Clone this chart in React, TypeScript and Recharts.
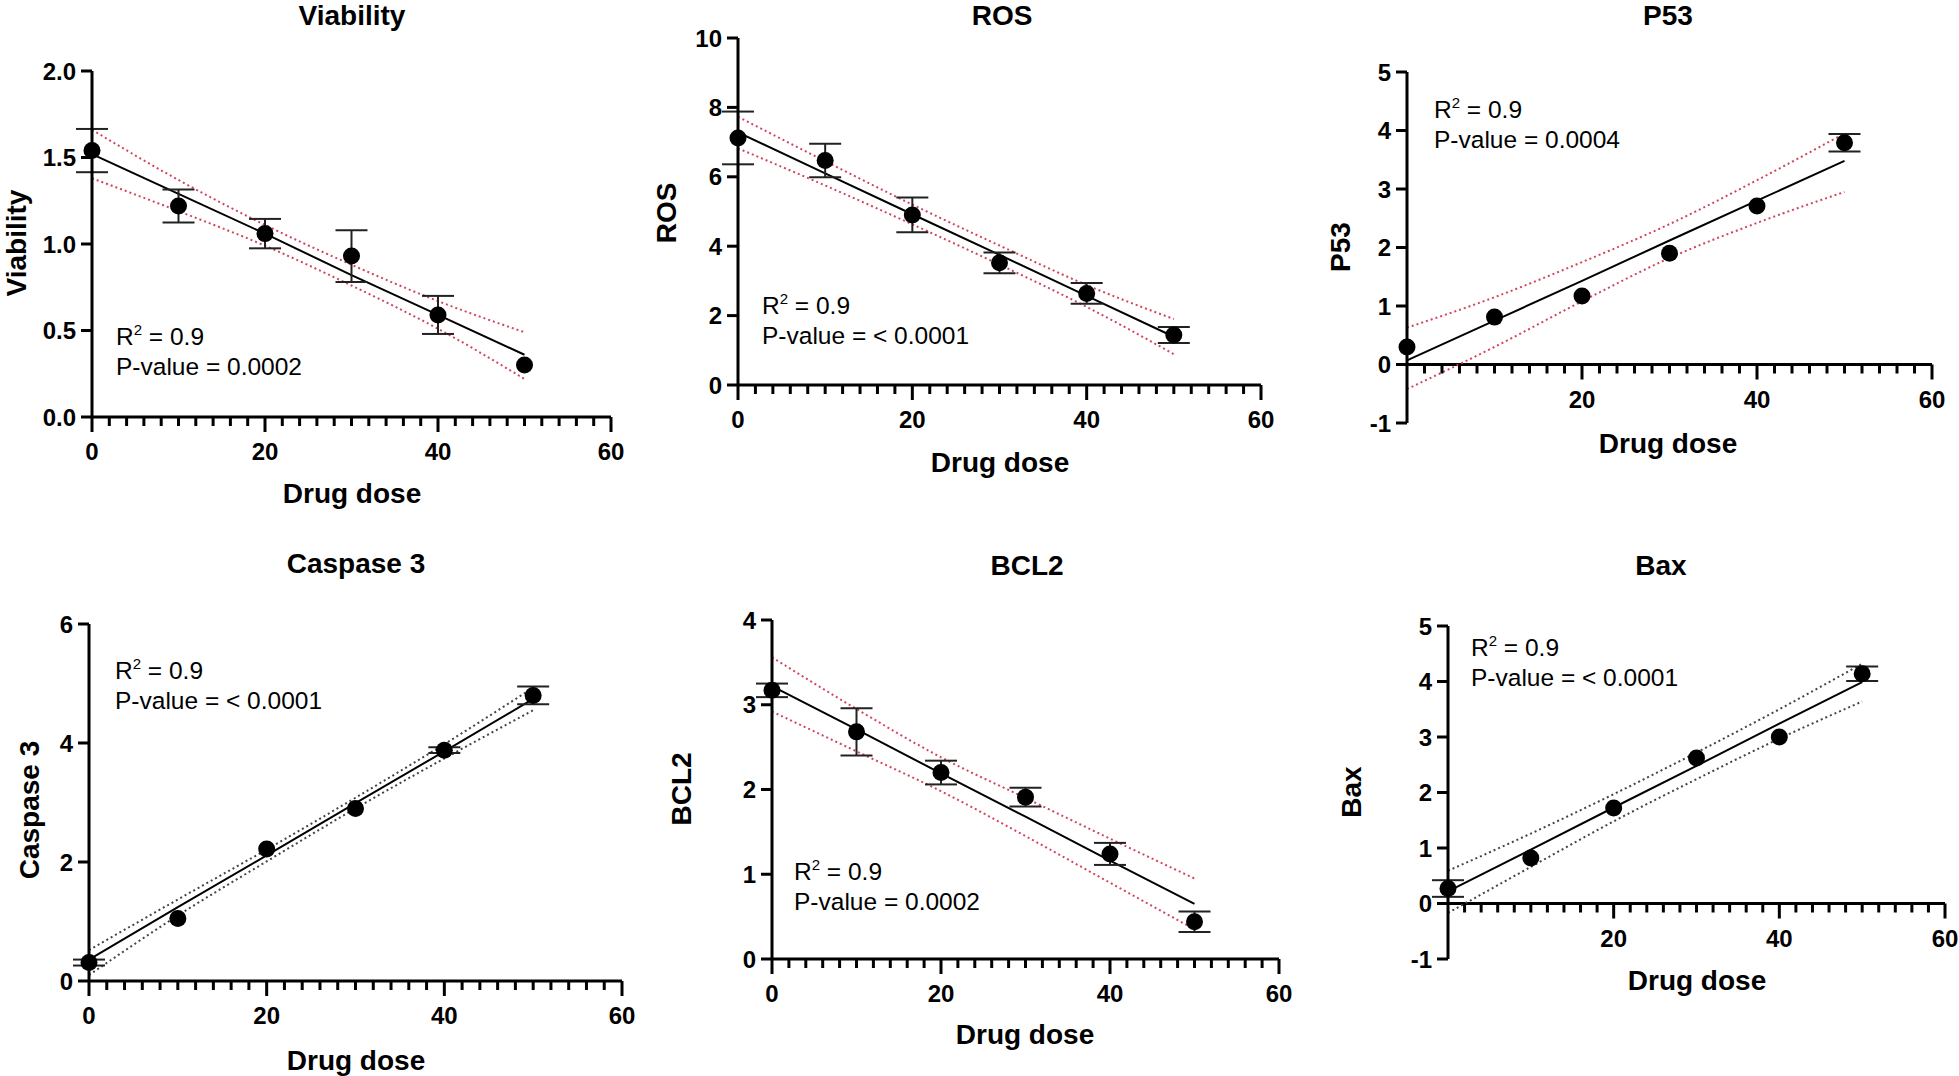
import React from 'react';
import { ComposedChart, Scatter, Line, XAxis, YAxis, ErrorBar, ReferenceLine, ReferenceDot } from 'recharts';

const FONT = "'Liberation Sans', Arial, Helvetica, sans-serif";

const doses = [0, 10, 20, 30, 40, 50];
const xMajorTicks = [0, 20, 40, 60];
const xMinorTicks = [2, 4, 6, 8, 10, 12, 14, 16, 18, 22, 24, 26, 28, 30, 32, 34, 36, 38, 42, 44, 46, 48, 50, 52, 54, 56, 58];

// Viability
const viabilityMean = [1.54, 1.22, 1.06, 0.93, 0.59, 0.3];
const viabilityErr = [0.125, 0.095, 0.085, 0.15, 0.11, 0];
const viabilityFit = [1.52, 1.29, 1.06, 0.82, 0.59, 0.36];
const viabilityUpper = [1.66, 1.37, 1.11, 0.88, 0.67, 0.49];
const viabilityLower = [1.38, 1.19, 0.99, 0.76, 0.51, 0.22];

// ROS
const rosMean = [7.12, 6.47, 4.9, 3.52, 2.64, 1.44];
const rosErr = [0.76, 0.48, 0.5, 0.3, 0.3, 0.23];
const rosFit = [7.28, 6.1, 4.92, 3.75, 2.57, 1.39];
const rosUpper = [7.73, 6.45, 5.2, 4.02, 2.88, 1.9];
const rosLower = [6.82, 5.75, 4.63, 3.47, 2.25, 0.89];

// P53
const p53Mean = [0.3, 0.81, 1.17, 1.9, 2.71, 3.79];
const p53Err = [0, 0, 0, 0, 0, 0.15];
const p53Fit = [0.07, 0.75, 1.43, 2.12, 2.8, 3.48];
const p53Upper = [0.63, 1.15, 1.75, 2.4, 3.15, 3.95];
const p53Lower = [-0.42, 0.3, 1.08, 1.82, 2.42, 2.95];

// Caspase 3
const caspaseMean = [0.31, 1.05, 2.22, 2.9, 3.88, 4.8];
const caspaseErr = [0.05, 0, 0, 0, 0.05, 0.15];
const caspaseFit = [0.36, 1.24, 2.11, 2.99, 3.86, 4.74];
const caspaseUpper = [0.52, 1.37, 2.21, 3.08, 3.98, 4.93];
const caspaseLower = [0.1, 1.1, 2.01, 2.9, 3.74, 4.55];

// BCL2
const bcl2Mean = [3.17, 2.68, 2.2, 1.91, 1.24, 0.44];
const bcl2Err = [0.08, 0.28, 0.14, 0.11, 0.13, 0.12];
const bcl2Fit = [3.22, 2.71, 2.19, 1.68, 1.16, 0.65];
const bcl2Upper = [3.56, 2.95, 2.38, 1.9, 1.42, 0.95];
const bcl2Lower = [2.92, 2.45, 1.98, 1.45, 0.9, 0.35];

// Bax
const baxMean = [0.27, 0.82, 1.72, 2.62, 3.0, 4.14];
const baxErr = [0.15, 0, 0, 0, 0, 0.13];
const baxFit = [0.22, 0.97, 1.73, 2.48, 3.24, 3.99];
const baxUpper = [0.59, 1.26, 1.97, 2.72, 3.5, 4.32];
const baxLower = [-0.17, 0.66, 1.48, 2.24, 2.97, 3.64];

const RED_BAND = '#d2465c';
const GRAY_BAND = '#444444';

const panels = [
  { title: 'Viability', yLabel: 'Viability', yDomain: [0, 2], yTicks: [0, 0.5, 1, 1.5, 2], decimals: 1, mean: viabilityMean, err: viabilityErr, fit: viabilityFit, upper: viabilityUpper, lower: viabilityLower, band: RED_BAND, r2: '0.9', p: '0.0002', zeroLabel: true },
  { title: 'ROS', yLabel: 'ROS', yDomain: [0, 10], yTicks: [0, 2, 4, 6, 8, 10], decimals: 0, mean: rosMean, err: rosErr, fit: rosFit, upper: rosUpper, lower: rosLower, band: RED_BAND, r2: '0.9', p: '< 0.0001', zeroLabel: true },
  { title: 'P53', yLabel: 'P53', yDomain: [-1, 5], yTicks: [-1, 0, 1, 2, 3, 4, 5], decimals: 0, mean: p53Mean, err: p53Err, fit: p53Fit, upper: p53Upper, lower: p53Lower, band: RED_BAND, r2: '0.9', p: '0.0004', zeroLabel: false },
  { title: 'Caspase 3', yLabel: 'Caspase 3', yDomain: [0, 6], yTicks: [0, 2, 4, 6], decimals: 0, mean: caspaseMean, err: caspaseErr, fit: caspaseFit, upper: caspaseUpper, lower: caspaseLower, band: GRAY_BAND, r2: '0.9', p: '< 0.0001', zeroLabel: true },
  { title: 'BCL2', yLabel: 'BCL2', yDomain: [0, 4], yTicks: [0, 1, 2, 3, 4], decimals: 0, mean: bcl2Mean, err: bcl2Err, fit: bcl2Fit, upper: bcl2Upper, lower: bcl2Lower, band: RED_BAND, r2: '0.9', p: '0.0002', zeroLabel: true },
  { title: 'Bax', yLabel: 'Bax', yDomain: [-1, 5], yTicks: [-1, 0, 1, 2, 3, 4, 5], decimals: 0, mean: baxMean, err: baxErr, fit: baxFit, upper: baxUpper, lower: baxLower, band: GRAY_BAND, r2: '0.9', p: '< 0.0001', zeroLabel: false },
];

// plot rectangles and text anchors, page pixels
const layouts = [
  { L: 92, R: 611, T: 71, B: 417, title: [352, 15], xTitle: [352, 493], yTitle: [16, 243], note: [116, 345] },
  { L: 738, R: 1261, T: 38, B: 385, title: [1002, 15], xTitle: [1000, 462], yTitle: [666, 213], note: [762, 314] },
  { L: 1407, R: 1932, T: 72, B: 423, title: [1668, 15], xTitle: [1668, 443], yTitle: [1340, 247], note: [1434, 118] },
  { L: 89, R: 622, T: 624, B: 981, title: [356, 563], xTitle: [356, 1060], yTitle: [29, 810], note: [115, 679] },
  { L: 772, R: 1279, T: 620, B: 959, title: [1027, 565], xTitle: [1025, 1034], yTitle: [681, 789], note: [794, 880] },
  { L: 1448, R: 1945, T: 626, B: 959, title: [1661, 565], xTitle: [1697, 980], yTitle: [1351, 792], note: [1471, 656] },
];

const PAD_L = 80;
const PAD_T = 20;

function PanelChart({ panel, box }: { panel: any; box: any }) {
  const rows = doses.map((x, i) => ({
    x,
    y: panel.mean[i],
    err: panel.err[i],
    fit: panel.fit[i],
    hi: panel.upper[i],
    lo: panel.lower[i],
  }));
  const w = box.R - box.L + 100;
  const h = box.B - box.T + 80;
  return (
    <div style={{ position: 'absolute', left: box.L - PAD_L, top: box.T - PAD_T }}>
      <ComposedChart width={w} height={h} data={rows} margin={{ top: PAD_T, right: 20, bottom: 60, left: 20 }} style={{ overflow: 'visible' }}>
        <XAxis dataKey="x" type="number" domain={[0, 60]} ticks={xMajorTicks} hide />
        <YAxis
          type="number"
          width={60}
          domain={panel.yDomain}
          ticks={panel.yTicks}
          interval={0}
          tickFormatter={(v: number) => v.toFixed(panel.decimals)}
          axisLine={{ stroke: '#000', strokeWidth: 3 }}
          tickLine={{ stroke: '#000', strokeWidth: 3 }}
          tickSize={11}
          tickMargin={5}
          tick={{ fill: '#000', fontSize: 24, fontWeight: 700, fontFamily: FONT }}
        />
        <ReferenceLine y={0} stroke="#000" strokeWidth={3} />
        {xMinorTicks.map((t) => (
          <ReferenceDot key={'m' + t} x={t} y={0} r={0} ifOverflow="visible"
            shape={(p: any) => <line x1={p.cx} y1={p.cy} x2={p.cx} y2={p.cy + 9} stroke="#000" strokeWidth={3} />} />
        ))}
        {xMajorTicks.filter((t) => t !== 0 || panel.zeroLabel).map((t) => (
          <ReferenceDot key={'M' + t} x={t} y={0} r={0} ifOverflow="visible"
            shape={(p: any) => (
              <g>
                <line x1={p.cx} y1={p.cy} x2={p.cx} y2={p.cy + 15} stroke="#000" strokeWidth={3} />
                <text x={p.cx} y={p.cy + 35} dy="0.35em" textAnchor="middle" fontSize={24} fontWeight={700} fontFamily={FONT} fill="#000">{t}</text>
              </g>
            )} />
        ))}
        <Line dataKey="hi" type="monotone" stroke={panel.band} strokeWidth={2} strokeDasharray="2 3" dot={false} activeDot={false} isAnimationActive={false} />
        <Line dataKey="lo" type="monotone" stroke={panel.band} strokeWidth={2} strokeDasharray="2 3" dot={false} activeDot={false} isAnimationActive={false} />
        <Line dataKey="fit" type="linear" stroke="#000" strokeWidth={2} dot={false} activeDot={false} isAnimationActive={false} />
        <Scatter data={rows} dataKey="y" fill="#000" isAnimationActive={false}
          shape={(p: any) => <circle cx={p.cx} cy={p.cy} r={8.5} fill="#000" />}>
          <ErrorBar dataKey="err" direction="y" width={16} strokeWidth={2} stroke="#222" />
        </Scatter>
      </ComposedChart>
    </div>
  );
}

export default function App() {
  return (
    <div style={{ position: 'absolute', left: 0, top: 0, width: 1959, height: 1076, overflow: 'hidden', background: '#fff' }}>
      {panels.map((panel, i) => (
        <PanelChart key={panel.title} panel={panel} box={layouts[i]} />
      ))}
      <svg width={1959} height={1076} style={{ position: 'absolute', left: 0, top: 0, pointerEvents: 'none' }}>
        {panels.map((panel, i) => {
          const b = layouts[i];
          return (
            <g key={panel.title} fontFamily={FONT} fill="#000">
              <text x={b.title[0]} y={b.title[1]} dy="0.35em" textAnchor="middle" fontSize={28} fontWeight={700}>{panel.title}</text>
              <text x={b.xTitle[0]} y={b.xTitle[1]} dy="0.35em" textAnchor="middle" fontSize={28} fontWeight={700}>Drug dose</text>
              <text transform={`translate(${b.yTitle[0]},${b.yTitle[1]}) rotate(-90)`} dy="0.35em" textAnchor="middle" fontSize={28} fontWeight={700}>{panel.yLabel}</text>
              <text x={b.note[0]} y={b.note[1]} fontSize={24.5}>
                R<tspan fontSize={15} dy={-10}>2</tspan><tspan dy={10}> = {panel.r2}</tspan>
              </text>
              <text x={b.note[0]} y={b.note[1] + 30} fontSize={24.5}>P-value = {panel.p}</text>
            </g>
          );
        })}
      </svg>
    </div>
  );
}
